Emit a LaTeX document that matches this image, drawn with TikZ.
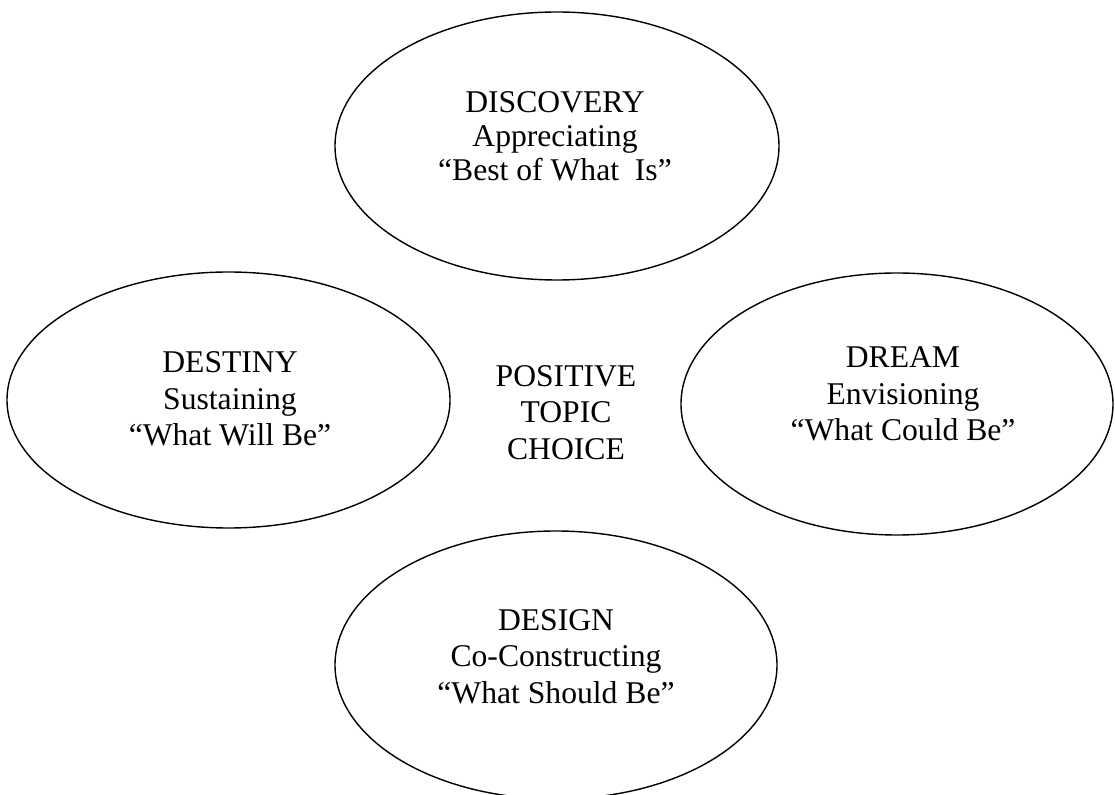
\documentclass[tikz,border=0pt]{standalone}
\usepackage{fontspec}
\setmainfont{Liberation Serif}
\usepackage{tikz}
\usetikzlibrary{shapes.geometric}
\tikzstyle{phase} = [draw, ellipse, line width=0.8pt, inner sep=0pt]
\tikzstyle{phasetext} = [align=center, font=\fontsize{18}{20.8}\selectfont]

\begin{document}
\begin{tikzpicture}
                \useasboundingbox (0,0) rectangle (22.3,15.9);
                % the four phases
                \node[phase, minimum width=8.88cm, minimum height=5.36cm] (discovery) at (11.14,12.98) {};
                \node[phase, minimum width=8.86cm, minimum height=5.12cm] (destiny) at (4.57,7.90) {};
                \node[phase, minimum width=8.64cm, minimum height=5.24cm] (dream) at (17.94,7.82) {};
                \node[phase, minimum width=8.84cm, minimum height=5.36cm] (design) at (11.12,2.60) {};
                \node[phasetext, font=\fontsize{18}{19.4}\selectfont] (discoverytxt) at (11.10,13.18) {DISCOVERY\\Appreciating\\``Best of What\ \ Is''};
                \node[phasetext] (destinytxt) at (4.60,7.92) {DESTINY\\Sustaining\\``What Will Be''};
                \node[phasetext] (dreamtxt) at (18.06,8.02) {DREAM\\Envisioning\\``What Could Be''};
                \node[phasetext] (designtxt) at (11.12,2.77) {DESIGN\\Co-Constructing\\``What Should Be''};
                % middle
                \node[phasetext] (topic) at (11.32,7.65) {POSITIVE\\TOPIC\\CHOICE};
            \end{tikzpicture}
\end{document}
